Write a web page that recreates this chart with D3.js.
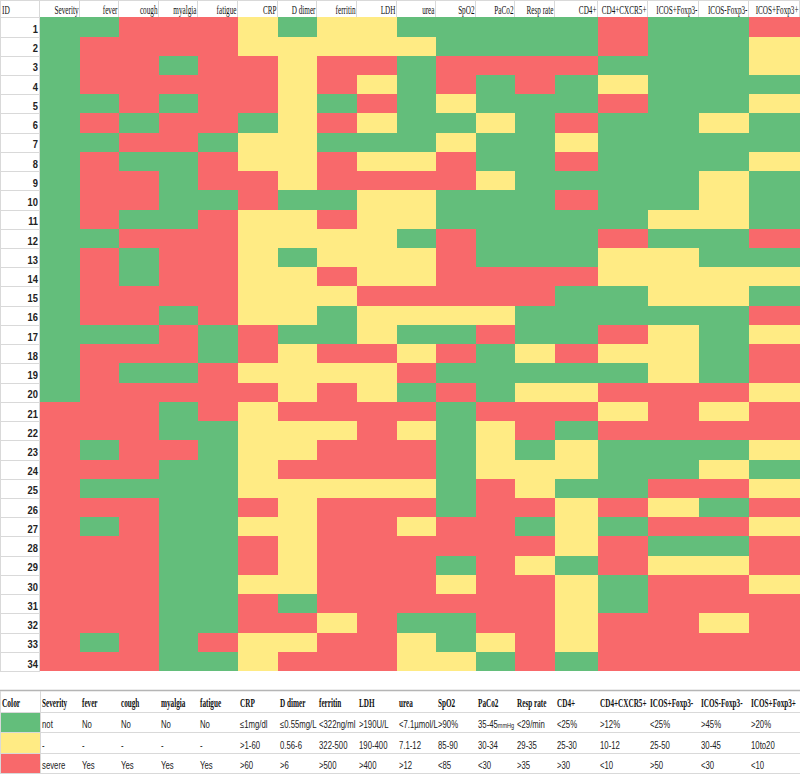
<!DOCTYPE html>
<html>
<head>
<meta charset="utf-8">
<script src="https://cdn.jsdelivr.net/npm/d3@7"></script>
<style>
  html, body { margin: 0; padding: 0; background: #fff; }
  svg { display: block; }
</style>
</head>
<body>
<svg id="chart" width="800" height="778"></svg>
<script>
// ---------------- DATA ----------------
const columns = ["Severity","fever","cough","myalgia","fatigue","CRP","D dimer","ferritin","LDH",
  "urea","SpO2","PaCo2","Resp rate","CD4+","CD4+CXCR5+","ICOS+Foxp3-","ICOS-Foxp3-","ICOS+Foxp3+"];

const ids = [1,2,3,4,5,6,7,8,9,10,11,12,13,14,15,16,17,18,19,20,21,22,23,24,25,26,27,28,29,30,31,32,33,34];

// grade per patient and column: 0 = not (green), 1 = intermediate (yellow), 2 = severe (red)
const grades = [
  [0,0,2,2,2,1,0,1,1,0,0,0,0,0,2,0,0,2],
  [0,2,2,2,2,1,1,1,1,1,0,0,0,0,2,0,0,1],
  [0,2,2,0,2,2,1,2,2,0,2,2,2,2,0,0,0,1],
  [0,2,2,2,2,2,1,2,1,0,2,0,2,0,1,0,0,0],
  [0,0,2,0,2,2,1,0,2,0,1,0,0,0,2,0,0,1],
  [0,2,0,2,2,0,1,2,1,0,0,1,0,2,0,0,1,0],
  [0,0,2,2,0,1,1,0,0,0,1,0,0,1,0,0,0,0],
  [0,2,0,0,2,1,1,2,1,1,2,0,0,2,0,0,0,1],
  [0,2,2,0,2,2,1,2,2,2,2,1,0,0,0,0,1,0],
  [0,2,2,0,0,2,0,0,1,1,0,0,0,2,0,0,1,0],
  [0,2,0,0,2,1,1,2,1,1,0,0,0,0,0,1,1,0],
  [0,0,2,2,2,1,1,1,1,0,2,0,0,0,2,0,0,2],
  [0,2,0,2,2,1,0,1,1,1,2,0,0,0,1,1,0,0],
  [0,2,0,2,2,1,1,2,1,1,2,2,2,2,1,1,1,1],
  [0,2,2,2,2,1,1,1,2,2,2,2,2,0,0,1,1,0],
  [0,2,2,0,2,1,1,0,1,1,1,1,0,0,0,0,0,2],
  [0,0,0,2,0,2,0,0,1,0,0,2,0,0,2,1,0,1],
  [0,2,2,2,0,2,1,2,2,1,2,0,1,2,1,1,0,2],
  [0,2,0,0,2,1,1,1,1,2,0,0,0,0,0,1,0,2],
  [0,2,2,2,2,2,1,2,1,0,2,0,1,1,2,2,2,1],
  [2,2,2,0,2,1,2,2,2,2,0,2,2,2,1,2,1,2],
  [2,2,2,0,0,1,1,1,2,1,0,1,2,0,2,2,2,2],
  [2,0,2,2,0,1,1,2,2,2,0,1,0,1,0,0,0,1],
  [2,2,2,0,0,1,2,2,2,2,0,1,1,1,0,0,1,0],
  [2,0,0,0,0,1,1,1,1,1,0,2,1,0,0,2,2,1],
  [2,2,2,0,0,2,1,2,2,2,0,2,2,1,2,1,0,2],
  [2,0,2,0,0,1,1,2,2,1,2,2,0,1,0,2,2,1],
  [2,2,2,0,0,2,1,2,2,2,2,2,2,1,2,0,0,2],
  [2,2,2,0,0,2,1,2,2,2,0,2,1,0,2,1,1,2],
  [2,2,2,0,0,1,1,2,2,2,1,2,2,1,0,2,2,1],
  [2,2,2,0,0,2,0,2,2,2,2,2,2,1,0,2,2,2],
  [2,2,2,0,0,2,2,1,2,0,0,2,2,1,2,2,1,2],
  [2,0,2,0,2,1,1,2,2,1,0,1,2,1,2,2,2,2],
  [2,2,2,0,0,1,2,2,2,1,1,0,2,0,2,2,2,2]
];

const legendRowsKeys = ["not","mid","severe"];
const legendNot    = ["not","No","No","No","No","≤1mg/dl","≤0.55mg/L","<322ng/ml",">190U/L","<7.1µmol/L",">90%","35-45|mmHg","<29/min","<25%",">12%","<25%",">45%",">20%"];
const legendMid    = ["-","-","-","-","-",">1-60","0.56-6","322-500","190-400","7.1-12","85-90","30-34","29-35","25-30","10-12","25-50","30-45","10to20"];
const legendSevere = ["severe","Yes","Yes","Yes","Yes",">60",">6",">500",">400",">12","<85","<30",">35",">30","<10",">50","<30","<10"];

// ---------------- LAYOUT ----------------
const colWeights = [1,1,1,1,1,1,1,1,1,1,1,1,1,1.085,1.275,1.275,1.275,1.275];
const palette = ["#63BE7B","#FFEB84","#F8696B"];
const gridCol = "#d9d9d9";
const serif = "'Liberation Serif', 'Times New Roman', serif";
const sans = "'Liberation Sans', Arial, sans-serif";

const svg = d3.select("#chart");
const edges = [0, ...d3.cumsum(colWeights)];
const x = d3.scaleLinear().domain([0, edges[edges.length-1]]).range([40, 800]);
const colStart = i => Math.round(x(edges[i]));
const colEnd = i => Math.round(x(edges[i+1]));

const y = d3.scaleBand().domain(ids).range([17.3, 671]).paddingInner(0);
const color = d3.scaleOrdinal().domain([0,1,2]).range(palette);

// header background
svg.append("rect").attr("x",0).attr("y",0).attr("width",800).attr("height",17.3).attr("fill","#fff");

// cells
const cells = [];
grades.forEach((row, r) => row.forEach((g, c) => cells.push({id: ids[r], c, g})));
svg.append("g").selectAll("rect").data(cells).join("rect")
  .attr("x", d => colStart(d.c))
  .attr("y", d => Math.round(y(d.id)))
  .attr("width", d => colEnd(d.c) - colStart(d.c))
  .attr("height", d => Math.round(y(d.id) + y.bandwidth()) - Math.round(y(d.id)))
  .attr("fill", d => color(d.g))
  .attr("shape-rendering","crispEdges");

// ID column grid
const idg = svg.append("g");
idg.selectAll("line.h").data(ids).join("line")
  .attr("x1",0).attr("x2",40)
  .attr("y1", d => Math.round(y(d)) + 0.5).attr("y2", d => Math.round(y(d)) + 0.5)
  .attr("stroke", gridCol);
idg.append("line").attr("x1",0).attr("x2",40).attr("y1",671.5).attr("y2",671.5).attr("stroke",gridCol);
idg.append("line").attr("x1",0.5).attr("x2",0.5).attr("y1",0).attr("y2",671).attr("stroke",gridCol);
idg.append("line").attr("x1",39.5).attr("x2",39.5).attr("y1",0).attr("y2",671).attr("stroke",gridCol);
idg.selectAll("text").data(ids).join("text")
  .attr("transform", d => `translate(38,${y(d) + y.bandwidth() - 3.5}) scale(0.85,1)`)
  .attr("text-anchor","end")
  .attr("font-family", sans)
  .attr("font-weight","bold").attr("font-size", 11).attr("fill","#222")
  .text(d => d);

// header
const hg = svg.append("g");
hg.append("line").attr("x1",0).attr("x2",800).attr("y1",0.5).attr("y2",0.5).attr("stroke",gridCol);
hg.selectAll("line.v").data(columns).join("line")
  .attr("x1", (d,i) => colEnd(i) - 0.5).attr("x2", (d,i) => colEnd(i) - 0.5)
  .attr("y1",0).attr("y2",17).attr("stroke",gridCol);
hg.append("text").attr("transform","translate(2,13.5) scale(0.62,1)")
  .attr("font-family", serif).attr("font-size",12).attr("fill","#111").text("ID");
hg.selectAll("text.h").data(columns).join("text")
  .attr("class","h")
  .attr("transform", (d,i) => `translate(${colEnd(i) - 1.5},13.5) scale(0.6,1)`)
  .attr("text-anchor","end")
  .attr("font-family", serif).attr("font-size",12).attr("fill","#111")
  .text(d => d);

// ---------------- LEGEND TABLE ----------------
const ly = d3.scaleBand().domain(["head", ...legendRowsKeys]).range([691, 773]);
const lg = svg.append("g");
// swatches
lg.selectAll("rect").data(legendRowsKeys).join("rect")
  .attr("x",0).attr("y", d => Math.round(ly(d)) + 1)
  .attr("width",40).attr("height", d => Math.round(ly.bandwidth()) - 1)
  .attr("fill", (d,i) => palette[i]);
// lines
lg.append("line").attr("x1",0).attr("x2",800).attr("y1",690.5).attr("y2",690.5).attr("stroke","#b5b5b5").attr("stroke-width",1.5);
lg.selectAll("line.h").data(legendRowsKeys.concat(["end"])).join("line")
  .attr("x1",0).attr("x2",800)
  .attr("y1", (d,i) => Math.round(691 + ly.bandwidth()*(i+1)) + 0.5)
  .attr("y2", (d,i) => Math.round(691 + ly.bandwidth()*(i+1)) + 0.5)
  .attr("stroke", gridCol);
lg.append("line").attr("x1",0.5).attr("x2",0.5).attr("y1",691).attr("y2",773).attr("stroke",gridCol);
lg.append("line").attr("x1",40.5).attr("x2",40.5).attr("y1",691).attr("y2",773).attr("stroke",gridCol);

// header texts
lg.append("text").attr("transform", `translate(2,${ly("head") + ly.bandwidth() - 5}) scale(0.62,1)`)
  .attr("font-family", serif).attr("font-weight","bold").attr("font-size",12).attr("fill","#111")
  .text("Color");
lg.selectAll("text.lh").data(columns).join("text")
  .attr("class","lh")
  .attr("transform", (d,i) => `translate(${colStart(i) + 2},${ly("head") + ly.bandwidth() - 5}) scale(0.6,1)`)
  .attr("font-family", serif).attr("font-weight","bold").attr("font-size",12).attr("fill","#111")
  .text(d => d);

// value texts
const legendSets = [legendNot, legendMid, legendSevere];
legendSets.forEach((arr, k) => {
  const key = legendRowsKeys[k];
  const t = lg.selectAll("text.v" + k).data(arr).join("text")
    .attr("class","v" + k)
    .attr("transform", (d,i) => `translate(${colStart(i) + 2},${ly(key) + ly.bandwidth() - 4}) scale(0.74,1)`)
    .attr("font-family", sans)
    .attr("font-size", 10.5).attr("fill","#222");
  t.each(function(d) {
    const parts = d.split("|");
    const el = d3.select(this);
    el.append("tspan").text(parts[0]);
    if (parts[1]) el.append("tspan").attr("font-size", 7.5).text(parts[1]);
  });
});
</script>
</body>
</html>
